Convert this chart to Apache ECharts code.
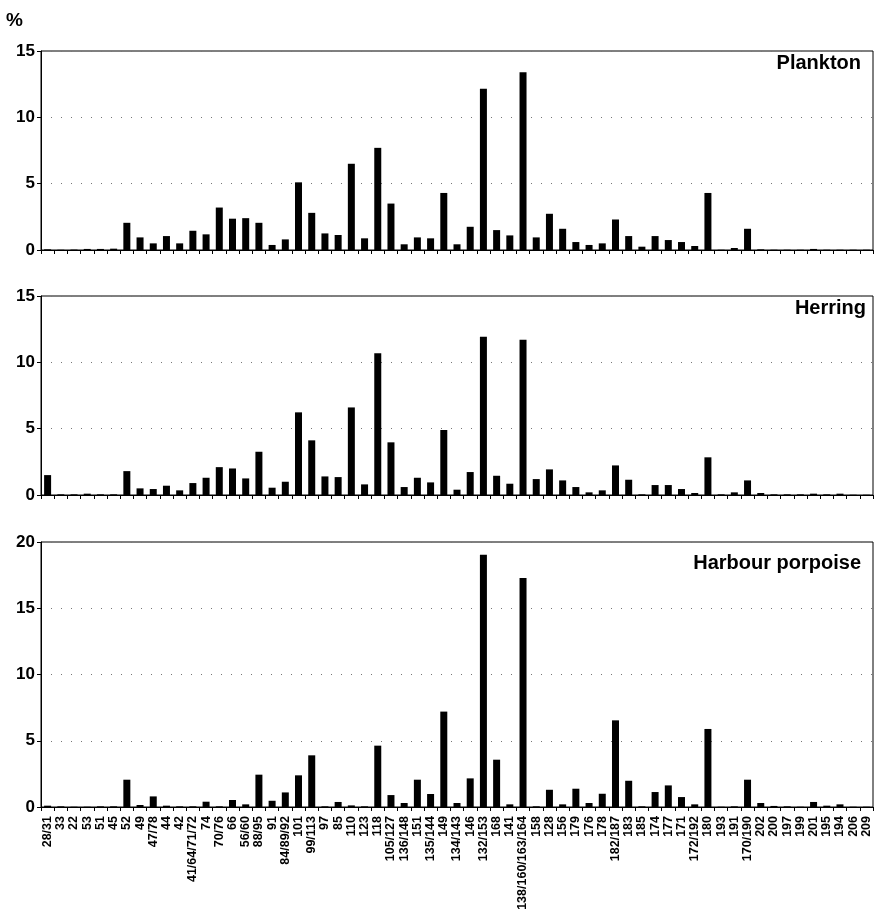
<!DOCTYPE html>
<html>
<head>
<meta charset="utf-8">
<script src="https://cdn.jsdelivr.net/npm/echarts@6/dist/echarts.min.js"></script>
<style>
html,body{margin:0;padding:0;background:#fff;}
#chart{width:881px;height:915px;}
</style>
</head>
<body>
<div id="chart"></div>
<script>
const categories = ["28/31","33","22","53","51","45","52","49","47/78","44","42","41/64/71/72","74","70/76","66","56/60","88/95","91","84/89/92","101","99/113","97","85","110","123","118","105/127","136/148","151","135/144","149","134/143","146","132/153","168","141","138/160/163/164","158","128","156","179","176","178","182/187","183","185","174","177","171","172/192","180","193","191","170/190","202","200","197","199","201","195","194","206","209"];

const planktonValues = [0.05,0.02,0.03,0.08,0.08,0.1,2.05,0.95,0.5,1.05,0.5,1.45,1.18,3.2,2.36,2.4,2.05,0.38,0.8,5.1,2.8,1.25,1.13,6.5,0.88,7.7,3.5,0.43,0.95,0.88,4.3,0.43,1.75,12.15,1.5,1.1,13.4,0.95,2.73,1.6,0.6,0.38,0.5,2.3,1.05,0.25,1.05,0.75,0.6,0.3,4.3,0.02,0.15,1.6,0.05,0.02,0.02,0.02,0.08,0.02,0.02,0.02,0.02];

const herringValues = [1.5,0.05,0.05,0.1,0.05,0.05,1.8,0.5,0.45,0.7,0.35,0.9,1.3,2.1,2.0,1.25,3.26,0.55,1.0,6.23,4.12,1.4,1.35,6.6,0.8,10.68,3.97,0.6,1.3,0.95,4.9,0.4,1.73,11.93,1.45,0.85,11.7,1.2,1.93,1.1,0.6,0.2,0.35,2.23,1.15,0.05,0.75,0.75,0.45,0.15,2.84,0.05,0.2,1.1,0.15,0.05,0.05,0.05,0.1,0.05,0.1,0.02,0.02];

const porpoiseValues = [0.1,0.05,0.02,0.02,0.05,0.05,2.06,0.15,0.8,0.1,0.05,0.05,0.4,0.05,0.53,0.2,2.44,0.47,1.1,2.39,3.9,0.05,0.38,0.12,0.05,4.63,0.9,0.3,2.06,0.98,7.2,0.3,2.16,19.04,3.57,0.2,17.28,0.05,1.3,0.2,1.38,0.3,1.0,6.54,1.98,0.05,1.13,1.63,0.75,0.2,5.89,0.02,0.05,2.06,0.3,0.08,0.05,0.02,0.38,0.1,0.2,0.02,0.02];

const panelTitles = ["Plankton","Herring","Harbour porpoise"];
const panelMax = [15,15,20];
const yInterval = 5;

const FONT = "'Liberation Sans', Arial, sans-serif";
const grids = [
  {left:41, right:8, top:51, height:199},
  {left:41, right:8, top:296, height:199},
  {left:41, right:8, top:542, height:265}
];
const titleTops = [53, 298, 553];
const titleRights = [20, 15, 20];
const seriesData = [planktonValues, herringValues, porpoiseValues];

const option = {
  animation:false,
  backgroundColor:'#fff',
  title: panelTitles.map((t,i)=>({
    text:t, right:titleRights[i], top:titleTops[i], padding:0,
    textStyle:{fontFamily:FONT,fontWeight:'bold',fontSize:20,color:'#000'}
  })),
  graphic:[{type:'text', left:6, top:11, style:{text:'%', fontFamily:FONT, fontWeight:'bold', fontSize:19, fill:'#000'}}],
  grid: grids.map(g=>Object.assign({show:true, borderColor:'#000', borderWidth:1, backgroundColor:'transparent'}, g)),
  xAxis: grids.map((g,i)=>({
    type:'category', gridIndex:i, data:categories,
    axisLine:{show:true, lineStyle:{color:'#000',width:1}},
    axisTick:{show:true, length:4, lineStyle:{color:'#000'}},
    axisLabel:{show:i===2, interval:0, rotate:90, margin:9, fontFamily:FONT, fontWeight:'bold', fontSize:12.5, color:'#000'}
  })),
  yAxis: grids.map((g,i)=>({
    type:'value', gridIndex:i, min:0, max:panelMax[i], interval:yInterval,
    axisLine:{show:true, lineStyle:{color:'#000',width:1}},
    axisTick:{show:true, length:4, lineStyle:{color:'#000'}},
    axisLabel:{margin:6, fontFamily:FONT, fontWeight:'bold', fontSize:17, color:'#000'},
    splitLine:{show:true, lineStyle:{color:'#777', width:1, type:[1,9]}}
  })),
  series: seriesData.map((d,i)=>({
    type:'bar', xAxisIndex:i, yAxisIndex:i, data:d, barWidth:7,
    itemStyle:{color:'#000'}
  }))
};
const chart = echarts.init(document.getElementById('chart'), null, {renderer:'canvas'});
chart.setOption(option);
</script>
</body>
</html>
